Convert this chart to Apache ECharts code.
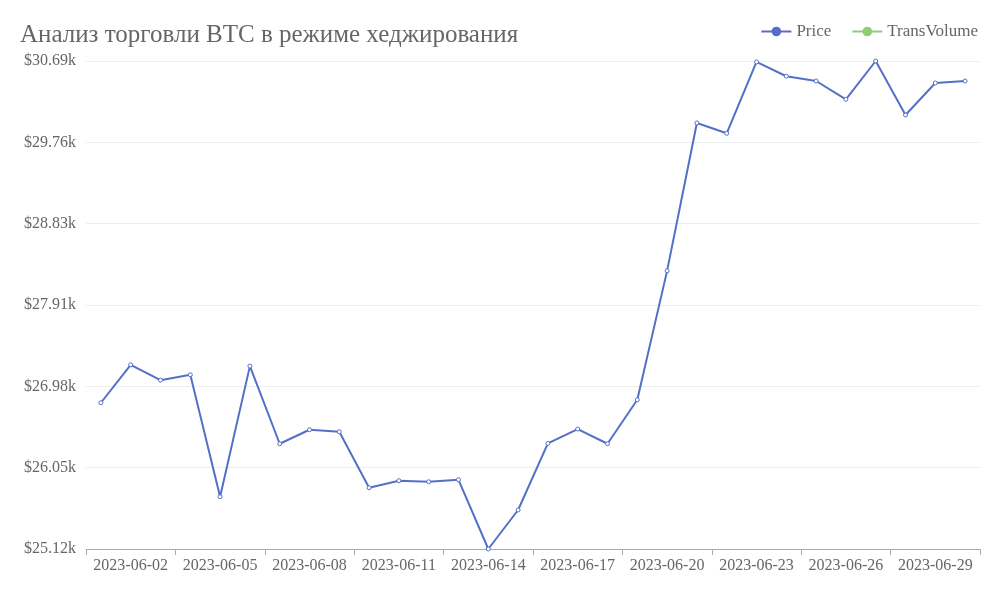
<!DOCTYPE html>
<html>
<head>
<meta charset="utf-8">
<script src="https://cdn.jsdelivr.net/npm/echarts@6/dist/echarts.min.js"></script>
<style>html,body{margin:0;padding:0;background:#fff}#c{width:1000px;height:600px}</style>
</head>
<body>
<div id="c"></div>
<script>
const dates = ["2023-06-01","2023-06-02","2023-06-03","2023-06-04","2023-06-05","2023-06-06","2023-06-07","2023-06-08","2023-06-09","2023-06-10","2023-06-11","2023-06-12","2023-06-13","2023-06-14","2023-06-15","2023-06-16","2023-06-17","2023-06-18","2023-06-19","2023-06-20","2023-06-21","2023-06-22","2023-06-23","2023-06-24","2023-06-25","2023-06-26","2023-06-27","2023-06-28","2023-06-29","2023-06-30"];
const price = [26790,27223,27048,27109,25717,27208,26322,26482,26459,25820,25900,25888,25911,25121,25566,26326,26490,26322,26824,28295,29983,29865,30679,30516,30462,30253,30690,30074,30439,30462];
const transVolume = [];
const yMin = 25121, yMax = 30690;

const chart = echarts.init(document.getElementById('c'));
const font = '"Liberation Serif", "DejaVu Serif", serif';
chart.setOption({
  animation: false,
  title: {
    text: 'Анализ торговли BTC в режиме хеджирования',
    left: 15, top: 18,
    textStyle: { fontFamily: font, fontSize: 25, fontWeight: 'normal', color: '#666' }
  },
  legend: {
    right: 17, top: 18,
    itemWidth: 30, itemHeight: 12, itemGap: 20,
    textStyle: { fontFamily: font, fontSize: 17, color: '#666' },
    data: [
      { name: 'Price', itemStyle: { color: '#5470c6', borderWidth: 0 } },
      { name: 'TransVolume', itemStyle: { color: '#91cc75', borderWidth: 0 } }
    ]
  },
  grid: { left: 86, right: 20, top: 61, bottom: 51 },
  xAxis: {
    type: 'category',
    data: dates,
    boundaryGap: true,
    axisLine: { lineStyle: { color: '#aaa' } },
    axisTick: { show: true, interval: 2, length: 6, lineStyle: { color: '#aaa' } },
    axisLabel: { interval: (i) => i % 3 === 1, fontFamily: font, fontSize: 16, color: '#666', margin: 9 }
  },
  yAxis: {
    type: 'value',
    min: yMin, max: yMax,
    interval: (yMax - yMin) / 6,
    axisLine: { show: false },
    axisTick: { show: false },
    splitLine: { lineStyle: { color: '#eee' } },
    axisLabel: {
      fontFamily: font, fontSize: 16, color: '#666', margin: 10,
      formatter: (v) => '$' + (v / 1000).toFixed(2) + 'k'
    }
  },
  series: [
    {
      name: 'Price', type: 'line', data: price,
      symbol: 'circle', symbolSize: 4,
      lineStyle: { width: 2, color: '#5470c6' },
      itemStyle: { color: '#fff', borderColor: '#5470c6', borderWidth: 1 }
    },
    {
      name: 'TransVolume', type: 'line', data: transVolume,
      symbol: 'circle', symbolSize: 4,
      lineStyle: { width: 2, color: '#91cc75' },
      itemStyle: { color: '#fff', borderColor: '#91cc75', borderWidth: 1 }
    }
  ]
});
</script>
</body>
</html>
